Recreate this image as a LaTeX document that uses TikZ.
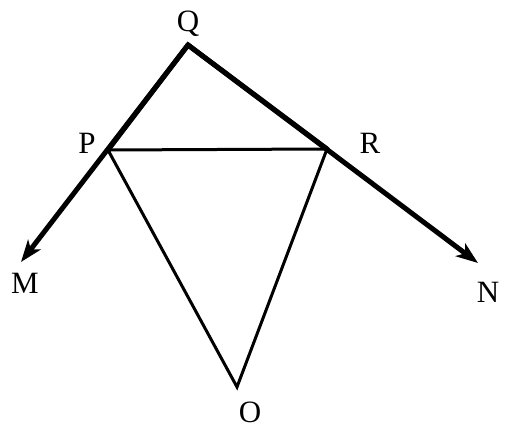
\documentclass[tikz,border=0pt]{standalone}
\usepackage{fontspec}
\setmainfont{Liberation Serif}
\usetikzlibrary{arrows.meta}
\begin{document}
\begin{tikzpicture}[x=1pt,y=-1pt,
  thickline/.style={line width=5pt,line cap=round},
  thinline/.style={line width=3pt,line join=miter},
  lbl/.style={font=\fontsize{31}{33}\selectfont, inner sep=0pt}]
\useasboundingbox (0,0) rectangle (514,435);
\coordinate (Q) at (188,45);
\coordinate (P) at (108,150);
\coordinate (R) at (327,149);
\coordinate (M) at (21,262);
\coordinate (N) at (478,263);
\coordinate (O) at (237,387);
\draw[thickline,-{Stealth[length=22pt,width=16pt,inset=6pt]}] (Q) -- (M);
\draw[thickline,-{Stealth[length=22pt,width=16pt,inset=6pt]}] (Q) -- (N);
\draw[thickline,line join=miter] (P) -- (Q) -- (R);
\draw[thinline] (P) -- (R) -- (O) -- cycle;
\node[lbl] (lQ) at (188,24) {Q};
\node[lbl] (lP) at (87,143) {P};
\node[lbl] (lR) at (370,143) {R};
\node[lbl] (lM) at (25,283) {M};
\node[lbl] (lN) at (488,292) {N};
\node[lbl] (lO) at (250,412) {O};
\end{tikzpicture}
\end{document}
